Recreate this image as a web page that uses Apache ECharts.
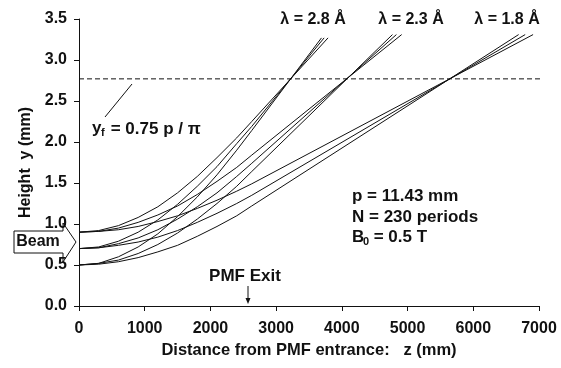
<!DOCTYPE html>
<html>
<head>
<meta charset="utf-8">
<script src="https://cdn.jsdelivr.net/npm/echarts@6/dist/echarts.min.js"></script>
<style>
  html, body { margin: 0; background: #fff; }
  #chart { width: 561px; height: 368px; }
</style>
</head>
<body>
<div id="chart"></div>
<script>
// ===== data =====
// z positions (mm) inside the magnet, last one = PMF exit
const zMagnet = [0, 300, 600, 900, 1200, 1500, 1800, 2100, 2400, 2629];

// lambda = 2.8 A, start heights 0.5 / 0.7 / 0.9 mm
const l28_y05 = [0.50, 0.52, 0.60, 0.72, 0.88, 1.09, 1.33, 1.60, 1.90, 2.14];
const l28_y07 = [0.70, 0.72, 0.79, 0.90, 1.05, 1.24, 1.46, 1.70, 1.98, 2.19];
const l28_y09 = [0.90, 0.92, 0.98, 1.08, 1.21, 1.38, 1.58, 1.81, 2.05, 2.25];
const l28_end = [[3690, 3.27], [3730, 3.27], [3790, 3.27]];

// lambda = 2.3 A
const l23_y05 = [0.50, 0.52, 0.56, 0.64, 0.75, 0.89, 1.06, 1.25, 1.46, 1.64];
const l23_y07 = [0.70, 0.71, 0.76, 0.83, 0.93, 1.06, 1.21, 1.38, 1.58, 1.74];
const l23_y09 = [0.90, 0.91, 0.95, 1.02, 1.11, 1.22, 1.36, 1.52, 1.69, 1.84];
const l23_end = [[4770, 3.31], [4830, 3.31], [4910, 3.31]];

// lambda = 1.8 A
const l18_y05 = [0.50, 0.51, 0.54, 0.59, 0.66, 0.74, 0.85, 0.97, 1.10, 1.22];
const l18_y07 = [0.70, 0.71, 0.74, 0.78, 0.84, 0.92, 1.02, 1.13, 1.25, 1.35];
const l18_y09 = [0.90, 0.91, 0.93, 0.97, 1.03, 1.10, 1.19, 1.29, 1.40, 1.49];
const l18_end = [[6690, 3.31], [6790, 3.31], [6910, 3.31]];

// focal height y_f (dashed line)
const yFocus = 2.77;
const focusLineZ = [0, 7230];

const xTicks = { min: 0, max: 7000, interval: 1000 };
const yTicks = { min: 0, max: 3.5, interval: 0.5 };

// ===== helpers =====
const FONT = "Liberation Sans, Arial, sans-serif";
const INK = "#111";

function track(ys, end) {
  return zMagnet.map((z, i) => [z, ys[i]]).concat([end]);
}

const groups = [
  [l28_y05, l28_y07, l28_y09, l28_end],
  [l23_y05, l23_y07, l23_y09, l23_end],
  [l18_y05, l18_y07, l18_y09, l18_end],
];

const series = [];
groups.forEach((g) => {
  for (let k = 0; k < 3; k++) {
    series.push({
      type: "line",
      data: track(g[k], g[3][k]),
      symbol: "none",
      lineStyle: { color: INK, width: 1 },
      silent: true,
      animation: false,
    });
  }
});

series.push({
  type: "line",
  data: focusLineZ.map((z) => [z, yFocus]),
  symbol: "none",
  clip: false,
  lineStyle: { color: INK, width: 1, type: [5, 3] },
  silent: true,
  animation: false,
});

function txt(x, y, text, size, align) {
  return {
    type: "text",
    x, y,
    style: {
      text,
      font: "bold " + size + "px " + FONT,
      fill: INK,
      textAlign: align || "left",
      textVerticalAlign: "middle",
    },
  };
}

const chart = echarts.init(document.getElementById("chart"), null, { renderer: "canvas" });

chart.setOption({
  backgroundColor: "#fff",
  animation: false,
  grid: { left: 79, right: 22, top: 19, bottom: 62, outerBoundsMode: "none" },
  xAxis: {
    type: "value",
    ...xTicks,
    name: "Distance from PMF entrance:   z (mm)",
    nameLocation: "middle",
    nameGap: 34,
    nameTextStyle: { fontFamily: FONT, fontWeight: "bold", fontSize: 16.5, color: INK },
    axisLine: { lineStyle: { color: INK, width: 1 } },
    axisTick: { show: true, length: 5, lineStyle: { color: INK } },
    axisLabel: {
      margin: 15, fontFamily: FONT, fontWeight: "bold", fontSize: 16, color: INK,
      formatter: (v) => String(v),
    },
    splitLine: { show: false },
  },
  yAxis: {
    type: "value",
    ...yTicks,
    name: "Height  y (mm)",
    nameLocation: "middle",
    nameGap: 45,
    nameTextStyle: { fontFamily: FONT, fontWeight: "bold", fontSize: 16, color: INK },
    axisLine: { show: true, lineStyle: { color: INK, width: 1 } },
    axisTick: { show: true, length: 5, lineStyle: { color: INK } },
    axisLabel: {
      margin: 12, fontFamily: FONT, fontWeight: "bold", fontSize: 16, color: INK,
      formatter: (v) => v.toFixed(1),
    },
    splitLine: { show: false },
  },
  series,
  graphic: [
    // wavelength labels
    txt(313, 20, "λ = 2.8 Å", 16, "center"),
    txt(411, 20, "λ = 2.3 Å", 16, "center"),
    txt(507, 20, "λ = 1.8 Å", 16, "center"),
    // y_f annotation
    { type: "line", shape: { x1: 105, y1: 117, x2: 132, y2: 84 }, style: { stroke: INK, lineWidth: 1 } },
    txt(92, 128, "y", 17),
    txt(101, 133, "f", 11),
    txt(106, 129, " = 0.75 p / π", 17),
    // magnet parameters
    txt(352, 196, "p = 11.43 mm", 17),
    txt(352, 217, "N = 230 periods", 17),
    txt(352, 237, "B", 17),
    txt(363, 242, "0", 11),
    txt(369, 237, " = 0.5 T", 17),
    // PMF exit marker
    txt(245, 276, "PMF Exit", 17, "center"),
    { type: "line", shape: { x1: 248, y1: 286, x2: 248, y2: 300 }, style: { stroke: INK, lineWidth: 1 } },
    { type: "polygon", shape: { points: [[245.5, 298], [250.5, 298], [248, 304]] }, style: { fill: INK } },
    // beam arrow
    {
      type: "polygon",
      shape: { points: [[14, 231], [63, 231], [63, 223], [76, 242], [63, 262], [63, 253], [14, 253]] },
      style: { fill: "none", stroke: INK, lineWidth: 1 },
    },
    txt(38, 242, "Beam", 16, "center"),
  ],
});
</script>
</body>
</html>
